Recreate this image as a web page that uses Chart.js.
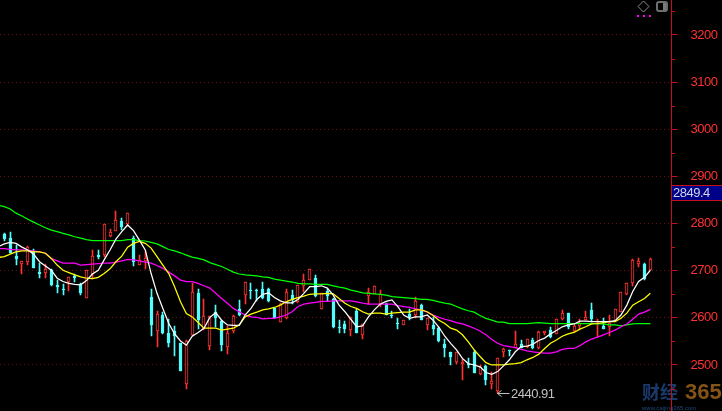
<!DOCTYPE html>
<html>
<head>
<meta charset="utf-8">
<style>
html,body{margin:0;padding:0;background:#000;}
canvas{display:block;}
</style>
<script src="https://cdn.jsdelivr.net/npm/chart.js@4"></script>
</head>
<body>
<canvas id="c" width="722" height="411"></canvas>
<script>
const tickValues = [2500,2600,2700,2800,2900,3000,3100,3200];
const minorTickValues = [2450,2550,2650,2750,2850,2950,3050,3150,3250];
const lastPrice = 2849.4;
const lowValue = 2440.91;
const lowIndex = 85;

const opens = [2777,2769,2732,2715,2719,2741,2697,2696,2701,2669,2662,2677,2689,2670,2643,2693,2733,2734,2774,2785,2805,2800,2769,2713,2721,
2644,2573,2606,2568,2573,2547,2460,2564,2653,2576,2540,2612,2593,2538,2572,2619,2648,2660,2660,2661,2661,2620,2591,2599,2648,2633,2668,2680,
2684,2619,2657,2640,2581,2587,2574,2614,2564,2646,2650,2629,2629,2607,2589,2585,2608,2606,2627,2585,2585,2578,2544,2527,2507,2502,2502,
2528,2481,2498,2460,2445,2527,2532,2537,2544,2538,2553,2535,2568,2574,2566,2598,2610,2572,2583,2596,2617,2591,2583,2581,2593,2612,2651,2673,2714,2714,2701];
const closes = [2768,2738,2724,2720,2750,2706,2693,2704,2670,2665,2659,2686,2684,2653,2701,2731,2730,2799,2782,2807,2793,2822,2718,2723,2726,
2585,2608,2568,2547,2561,2487,2551,2655,2595,2604,2604,2600,2542,2568,2604,2606,2677,2658,2659,2642,2636,2599,2629,2655,2638,2669,2680,2704,
2646,2652,2646,2581,2578,2576,2602,2568,2588,2655,2668,2651,2606,2606,2586,2595,2601,2635,2595,2600,2576,2550,2536,2518,2527,2506,2500,
2484,2495,2468,2466,2515,2534,2529,2544,2535,2555,2536,2571,2572,2559,2598,2610,2581,2583,2589,2602,2598,2594,2576,2589,2619,2655,2673,2723,2721,2682,2725];
const highs = [2781,2782,2755,2720,2753,2745,2717,2714,2703,2680,2672,2686,2694,2673,2701,2744,2743,2799,2789,2827,2811,2822,2774,2733,2742,
2661,2614,2612,2597,2582,2547,2552,2674,2661,2640,2604,2627,2595,2583,2606,2638,2677,2674,2661,2676,2663,2620,2631,2661,2659,2669,2694,2704,
2691,2653,2661,2642,2595,2593,2602,2619,2588,2663,2668,2659,2631,2614,2600,2595,2618,2644,2629,2600,2602,2581,2555,2527,2527,2513,2515,
2532,2500,2500,2485,2515,2536,2532,2572,2553,2555,2557,2572,2572,2581,2598,2617,2610,2587,2598,2615,2631,2598,2600,2606,2619,2655,2673,2725,2727,2716,2727];
const lows = [2763,2738,2712,2693,2712,2706,2685,2685,2668,2652,2648,2656,2676,2648,2643,2682,2725,2730,2771,2784,2786,2795,2710,2712,2704,
2561,2538,2566,2538,2519,2487,2449,2561,2576,2574,2532,2581,2530,2523,2568,2604,2629,2639,2636,2640,2634,2599,2591,2597,2629,2631,2655,2680,
2644,2619,2635,2578,2568,2568,2561,2568,2555,2629,2650,2624,2605,2600,2576,2585,2595,2599,2595,2574,2564,2549,2518,2500,2502,2468,2494,
2482,2478,2458,2450,2440.91,2518,2520,2537,2535,2537,2534,2534,2564,2557,2566,2595,2576,2570,2574,2595,2591,2560,2576,2561,2593,2612,2648,2668,2708,2680,2701];

const ma5 = [2751,2757,2760,2758,2750,2744,2735,2719,2710,2701,2684,2677,2673,2671,2670,2679,2693,2701,2723,2744,2767,2783,2797,2785,2765,2744,
2694,2652,2620,2588,2566,2551,2542,2561,2569,2578,2601,2611,2595,2585,2584,2584,2606,2620,2639,2650,2653,2643,2636,2632,2632,2639,2652,2666,
2666,2668,2663,2648,2627,2613,2597,2581,2583,2602,2617,2629,2635,2638,2624,2606,2599,2602,2602,2606,2595,2580,2561,2546,
2532,2514,2503,2500,2496,2484,2480,2486,2498,2511,2528,2539,2540,2544,2552,2557,2566,2573,2581,2585,2587,2593,2593,2592,2592,2592,2592,2594,2606,2627,2656,2677,2686,2701];
const ma10 = [2728,2730,2735,2740,2742,2742,2740,2740,2737,2726,2712,2701,2696,2691,2687,2684,2683,2686,2694,2704,2719,2731,2750,2758,2762,2758,2748,2730,
2712,2694,2666,2634,2609,2602,2590,2578,2578,2578,2574,2576,2578,2585,2602,2608,2612,2617,2619,2622,2627,2634,2639,2643,2646,2650,
2651,2651,2652,2651,2641,2631,2624,2620,2613,2608,2610,2610,2608,2610,2611,2612,2612,2617,2617,2613,2605,2595,2588,2578,
2574,2564,2549,2532,2518,2505,2500,2500,2500,2502,2503,2505,2511,2516,2523,2535,2546,2553,2561,2566,2569,2576,2581,2587,2588,2590,2592,2592,2599,2610,2627,2634,2641,2652];
const ma20 = [2747,2747,2745,2744,2744,2743,2742,2740,2737,2726,2721,2716,2716,2716,2712,2713,2714,2715,2716,2716,2718,2721,2724,2723,2721,2718,2716,
2711,2705,2697,2689,2680,2677,2677,2673,2668,2663,2652,2641,2631,2620,2613,2606,2602,2601,2598,2599,2599,2602,2606,2613,2624,2629,2631,
2633,2635,2635,2636,2636,2636,2636,2634,2631,2629,2629,2629,2629,2629,2626,2624,2622,2619,2617,2612,2606,2601,2597,2594,
2590,2587,2583,2578,2572,2564,2554,2546,2541,2539,2537,2533,2530,2528,2526,2525,2525,2528,2533,2535,2535,2541,2549,2555,2559,2564,2569,2574,2581,2587,2597,2608,2612,2618];
const ma60 = [2839,2836,2831,2822,2816,2809,2803,2797,2791,2786,2783,2779,2776,2772,2769,2766,2764,2764,2764,2764,2764,2764,2766,2766,2764,2763,2760,2757,2751,2745,
2742,2738,2733,2729,2726,2723,2717,2713,2709,2703,2697,2693,2691,2690,2689,2687,2686,2682,2680,2678,2676,2673,2672,2672,
2671,2671,2671,2668,2665,2663,2659,2656,2653,2652,2651,2650,2648,2645,2644,2643,2642,2641,2639,2639,2637,2634,2631,2629,
2624,2619,2615,2612,2605,2599,2595,2591,2591,2588,2588,2588,2588,2589,2590,2589,2588,2588,2588,2588,2588,2588,2588,2588,2587,2587,2585,2585,2583,2585,2587,2588,2588,2588];

const RED = '#ff3232', CYAN = '#54fcfc', AXIS = '#c4101c', GRID = '#6e1010';
const LABEL_FONT = '13px "Liberation Sans"';
const up = opens.map((o,i)=>closes[i] >= o);

const pts = (arr)=>arr.map((y,i)=>({x:i,y}));
const line = (label,data,color,order)=>({type:'line',label,data:pts(data),borderColor:color,borderWidth:1.25,pointRadius:0,tension:0,order});

const snapBars = {
  id:'snapBars',
  afterDatasetsUpdate(chart){
    chart.data.datasets.forEach((d,idx)=>{
      if(d.type!=='bar') return;
      chart.getDatasetMeta(idx).data.forEach(el=>{
        el.x = Math.floor(el.x)+0.5;
        const a = Math.round(Math.min(el.y,el.base));
        let b = Math.round(Math.max(el.y,el.base));
        if(b===a) b=a+1;
        el.y=a; el.base=b; el.height=b-a;
      });
    });
  }
};

const decor = {
  id:'decor',
  beforeDraw(chart){
    const c=chart.ctx; c.fillStyle='#000'; c.fillRect(0,0,chart.width,chart.height);
    c.letterSpacing='-0.5px';
  },
  afterDraw(chart){
    const c=chart.ctx, ys=chart.scales.y, xs=chart.scales.x;
    c.save();
    // watermark
    c.letterSpacing='0px';
    c.textBaseline='alphabetic'; c.textAlign='left';
    c.font='bold 18px "Noto Sans CJK SC"'; c.fillStyle='#1a3a6c';
    c.fillText('财经',642,399);
    c.font='bold 22px "Liberation Sans"'; c.fillStyle='#835318';
    c.fillText('365',685,399);
    c.font='6px "Liberation Sans"'; c.fillStyle='#1f4a7c';
    c.fillText('www.caijing365.com',642,410);
    c.letterSpacing='-0.5px';
    // axis redrawn over the watermark
    c.fillStyle=AXIS; c.fillRect(671,0,1,411);
    // minor ticks
    minorTickValues.forEach(v=>{ const y=Math.round(ys.getPixelForValue(v)); c.fillRect(671,y,4,1); });
    // last price box
    const py=Math.round(ys.getPixelForValue(lastPrice));
    c.fillStyle='#000088'; c.fillRect(672,py-15,50,15);
    c.fillStyle=AXIS; c.fillRect(672,py-15,50,1); c.fillRect(672,py,50,1);
    c.fillStyle='#d0d4e8'; c.font=LABEL_FONT; c.textBaseline='middle';
    c.fillText(lastPrice.toFixed(1),673,py-7);
    // low annotation
    const lx=Math.floor(xs.getPixelForValue(lowIndex))+0.5, ly=Math.round(ys.getPixelForValue(lowValue))+0.5;
    c.strokeStyle='#c0c0c0'; c.lineWidth=1;
    c.beginPath(); c.moveTo(lx,ly); c.lineTo(lx+12,ly); c.moveTo(lx,ly); c.lineTo(lx+4,ly-3); c.moveTo(lx,ly); c.lineTo(lx+4,ly+3); c.stroke();
    c.fillStyle='#c0c0c0'; c.font=LABEL_FONT;
    c.fillText(lowValue.toFixed(2),511,ly+1);
    // top icons
    c.strokeStyle='#8a8a8a';
    c.beginPath(); c.moveTo(643.5,1); c.lineTo(649,6.5); c.lineTo(643.5,12); c.lineTo(638,6.5); c.closePath(); c.stroke();
    c.strokeStyle='#6e6e6e'; c.lineWidth=2;
    c.beginPath(); c.roundRect(657,2,10,9,2); c.stroke();
    c.fillStyle='#7a7a7a'; c.fillRect(663,3,3,7);
    c.fillStyle='#ff00ff'; [637,643,649].forEach(x=>c.fillRect(x,15,2,2));
    c.restore();
  }
};

new Chart(document.getElementById('c'),{
  data:{datasets:[
    line('MA5',ma5,'#ffffff',1),
    line('MA10',ma10,'#ffff00',2),
    line('MA20',ma20,'#ff00ff',3),
    line('MA60',ma60,'#00ff00',4),
    {type:'bar',label:'Body',order:5,grouped:false,barThickness:3,
     data:opens.map((o,i)=>({x:i+1,y:[o,closes[i]]})),
     backgroundColor:up.map(u=>u?'#000000':CYAN),
     borderColor:up.map(u=>u?RED:CYAN),
     borderWidth:1,borderSkipped:false},
    {type:'bar',label:'Wick',order:6,grouped:false,barThickness:1,
     data:highs.map((h,i)=>({x:i+1,y:[lows[i],h]})),
     backgroundColor:up.map(u=>u?RED:CYAN),
     borderWidth:0}
  ]},
  options:{
    responsive:false,animation:false,
    layout:{padding:0},
    plugins:{legend:{display:false},tooltip:{enabled:false}},
    scales:{
      x:{type:'linear',display:false,min:0.268,max:114.6,offset:false,grid:{display:false}},
      y:{position:'right',min:2402.4,max:3274.2,
        afterBuildTicks(s){s.ticks=tickValues.map(value=>({value}));},
        afterFit(s){s.width=50.5;s.paddingTop=0;s.paddingBottom=0;},
        border:{color:AXIS,width:1,dash:[1,3]},
        grid:{color:GRID,lineWidth:1,tickColor:AXIS,tickLength:6,tickBorderDash:[]},
        ticks:{color:RED,padding:13,align:'center',maxRotation:0,autoSkip:false,
          font:{family:'"Liberation Sans"',size:13},
          callback:v=>String(v)}
      }
    }
  },
  plugins:[snapBars,decor]
});
</script>
</body>
</html>
